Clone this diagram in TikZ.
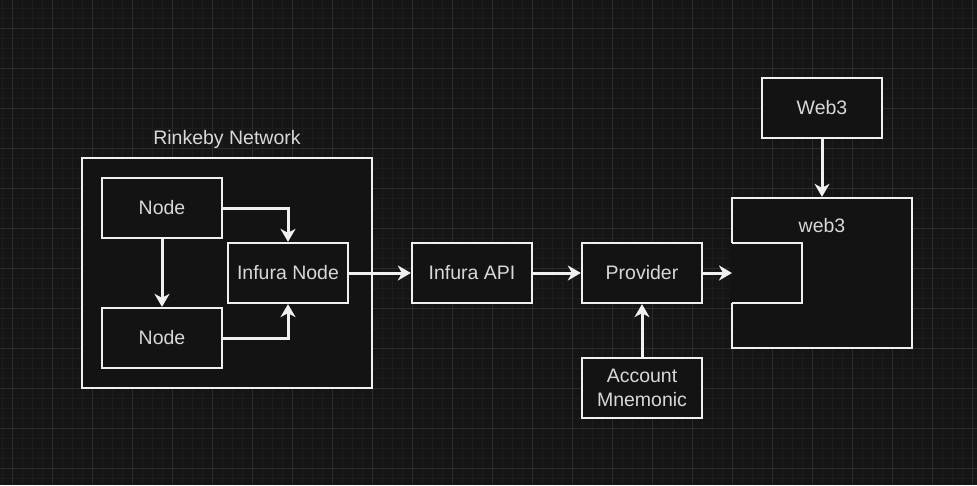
\documentclass[tikz,border=0pt]{standalone}
\usepackage{fontspec}
\setmainfont{Liberation Sans}
\usetikzlibrary{arrows.meta}
\definecolor{bgc}{HTML}{151515}
\definecolor{minorc}{HTML}{1D1D1D}
\definecolor{majorc}{HTML}{2C2C2C}
\definecolor{boxfill}{HTML}{131313}
\definecolor{linec}{HTML}{F0F0F0}
\definecolor{txtc}{HTML}{D8D8D8}
\tikzset{
  box/.style={draw=linec, line width=2.3pt, fill=boxfill, minimum width=120pt,
    minimum height=60pt, inner sep=0pt, text=txtc, align=center,
    font=\fontsize{19.5}{24}\selectfont},
  frame/.style={draw=linec, line width=2.3pt, fill=boxfill, inner sep=0pt},
  lbl/.style={text=txtc, inner sep=0pt, font=\fontsize{19.5}{24}\selectfont},
  conn/.style={draw=linec, line width=3pt,
    -{Stealth[length=13pt, width=15pt, inset=4pt]}},
}
\begin{document}
\begin{tikzpicture}[x=1pt, y=-1pt]
\useasboundingbox (0,0) rectangle (977,485);
\fill[bgc] (0,0) rectangle (977,485);
% grid
\foreach \gx in {2,12,...,972} \draw[minorc, line width=1pt] (\gx,0) -- (\gx,485);
\foreach \gy in {8,18,...,480} \draw[minorc, line width=1pt] (0,\gy) -- (977,\gy);
\foreach \gx in {12,52,...,972} \draw[majorc, line width=1pt] (\gx,0) -- (\gx,485);
\foreach \gy in {28,68,...,480} \draw[majorc, line width=1pt] (0,\gy) -- (977,\gy);

% containers
\node[frame, minimum width=290pt, minimum height=230pt] (rink) at (227,273) {};
\node[lbl] (rinklbl) at (227,139) {Rinkeby Network};
\node[frame, minimum width=180pt, minimum height=150pt] (w3box) at (822,273) {};
\node[lbl] (w3lbl) at (822,226) {web3};
\node[fill=boxfill, minimum width=72pt, minimum height=60pt, inner sep=0pt] (port) at (766,273) {};
\draw[linec, line width=2.3pt] ([xshift=2pt]port.north west) -- (port.north east) -- (port.south east) -- ([xshift=2pt]port.south west);
\coordinate (portin) at (732,273);

% nodes
\node[box] (n1) at (162,208) {Node};
\node[box] (n2) at (162,338) {Node};
\node[box] (inode) at (288,273) {Infura Node};
\node[box] (api) at (472,273) {Infura API};
\node[box] (prov) at (642,273) {Provider};
\node[box] (acct) at (642,388) {Account\\Mnemonic};
\node[box] (web3) at (822,108) {Web3};

% connectors
\draw[conn] (n1.east) -| (inode.north);
\draw[conn] (n2.east) -| (inode.south);
\draw[conn] (n1.south) -- (n2.north);
\draw[conn] (inode.east) -- (api.west);
\draw[conn] (api.east) -- (prov.west);
\draw[conn] (prov.east) -- (portin);
\draw[conn] (acct.north) -- (prov.south);
\draw[conn] (web3.south) -- (w3box.north);
\end{tikzpicture}
\end{document}
